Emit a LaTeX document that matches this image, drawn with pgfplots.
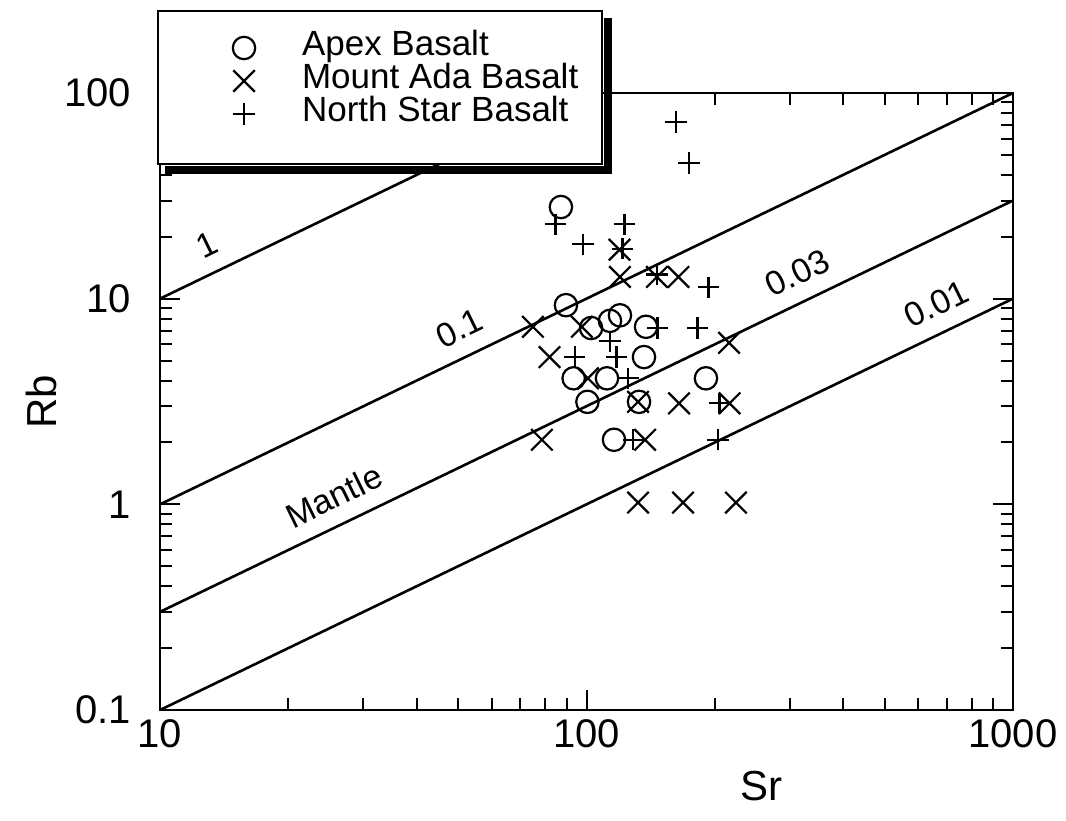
\documentclass[border=0pt]{standalone}
\usepackage{pgfplots}
\pgfplotsset{compat=1.18}
\usepackage{fontspec}
\setmainfont{Liberation Sans}

\pgfplotstableread{
x y
87.1 27.9
89.5 9.3
102.5 7.2
113.5 7.8
119.8 8.3
137.9 7.3
136.4 5.2
93.3 4.1
111.7 4.1
100.5 3.15
132.8 3.15
190.6 4.1
116.0 2.06
}\apex

\pgfplotstableread{
x y
74.9 7.3
81.9 5.2
97.5 7.3
100.8 4.1
119.5 17.3
119.8 12.75
146.3 12.75
164.3 12.75
132.1 3.15
164.8 3.1
216.5 3.1
215.9 6.1
78.6 2.06
137.2 2.06
132.1 1.02
168.4 1.02
224.1 1.02
}\ada

\pgfplotstableread{
x y
162.1 72.3
173.9 45.7
84.6 23.0
122.8 23.0
98.1 18.4
121.5 17.5
146.3 13.1
193.2 11.35
146.7 7.2
182.1 7.2
113.5 6.2
93.8 5.2
117.6 5.2
125.1 4.1
205.0 3.1
128.8 2.06
203.4 2.06
}\north

\begin{document}
\begin{tikzpicture}
\begin{axis}[
  name=ax,
  scale only axis, width=426.5pt, height=308.5pt,
  xmode=log, ymode=log,
  xmin=10, xmax=1000, ymin=0.1, ymax=100,
  xtick={10,100,1000}, xticklabels={10,100,1000},
  ytick={0.1,1,10,100}, yticklabels={0.1,1,10,100},
  tick align=inside, major tick length=10pt, minor tick length=6pt,
  axis line style={line width=1.3pt},
  every tick/.style={black, line width=1pt},
  ticklabel style={font=\fontsize{20}{24}\selectfont},
  yticklabel style={xshift=-11pt},
  xticklabel style={yshift=-1pt},
  label style={font=\fontsize{21}{25}\selectfont},
  xlabel={Sr}, ylabel={Rb},
  xlabel style={at={(ticklabel cs:0.705)}, anchor=north, yshift=-5pt},
  ylabel style={yshift=-3pt},
  legend image code/.code={\path[draw=none,fill=none] (0pt,-4pt) rectangle (60pt,4pt); \draw[#1] plot coordinates {(33pt,0pt)};},
  legend style={name=leg, at={(axis description cs:-0.0035,1.1345)}, anchor=north west,
    draw=black, line width=1pt, fill=white,
    font=\fontsize{17.5}{20}\selectfont,
    inner xsep=10pt, inner ysep=10.5pt, row sep=0.5pt,
    nodes={text height=12pt, text depth=4pt, inner ysep=0pt},
    cells={anchor=west}},
]
\addplot[black, line width=1.3pt, no marks, forget plot] coordinates {(10,10) (100,100)};
\addplot[black, line width=1.3pt, no marks, forget plot] coordinates {(10,1) (1000,100)};
\addplot[black, line width=1.3pt, no marks, forget plot] coordinates {(10,0.3) (1000,30)};
\addplot[black, line width=1.3pt, no marks, forget plot] coordinates {(10,0.1) (1000,10)};

\addplot[only marks, mark=o, mark size=5.6pt, line width=1.1pt, black] table {\apex};
\addlegendentry{Apex Basalt}
\addplot[only marks, mark=x, mark size=7.6pt, line width=1.1pt, black] table {\ada};
\addlegendentry{Mount Ada Basalt}
\addplot[only marks, mark=+, mark size=5.3pt, line width=1.1pt, black] table {\north};
\addlegendentry{North Star Basalt}
\addlegendimage{empty legend}
\addlegendentry[text height=6pt, text depth=0pt]{}

\node[rotate=26, anchor=south, inner sep=8pt, font=\fontsize{17}{20}\selectfont] at (axis cs:13.75,13.75) {1};
\node[rotate=26, anchor=south, inner sep=8pt, font=\fontsize{17}{20}\selectfont] at (axis cs:53.9,5.39) {0.1};
\node[rotate=26, anchor=south, inner sep=8pt, font=\fontsize{17}{20}\selectfont] at (axis cs:27.4,0.822) {Mantle};
\node[rotate=26, anchor=south, inner sep=8pt, font=\fontsize{17}{20}\selectfont] at (axis cs:334,10.02) {0.03};
\node[rotate=26, anchor=south, inner sep=8pt, font=\fontsize{17}{20}\selectfont] at (axis cs:708,7.08) {0.01};
\end{axis}
\fill[black] ([xshift=4pt,yshift=-4.5pt]leg.south west) rectangle ([xshift=4.5pt,yshift=-0.5pt]leg.south east);
\fill[black] ([xshift=0.5pt,yshift=-4.5pt]leg.south east) rectangle ([xshift=4.5pt,yshift=-4pt]leg.north east);
\path (ax.south west) ++(-80pt,-55pt) rectangle ([xshift=26.5pt,yshift=46.5pt]ax.north east);
\end{tikzpicture}
\end{document}
